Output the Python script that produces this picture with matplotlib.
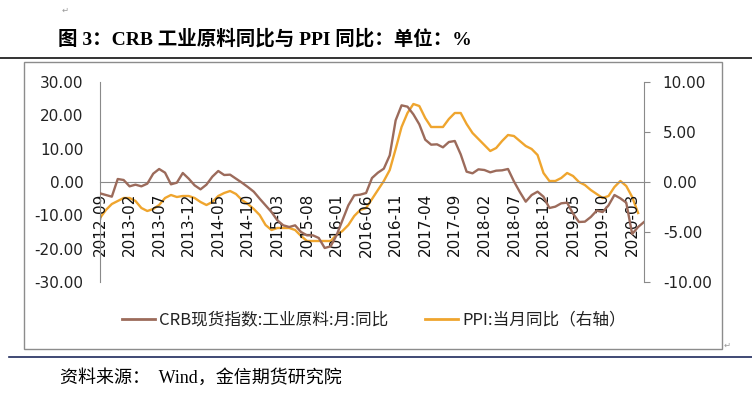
import matplotlib
matplotlib.use('Agg')
import matplotlib.pyplot as plt
from matplotlib.patches import Rectangle
from matplotlib.lines import Line2D
import pandas as pd

# fonts: CJK text needs Noto Sans CJK, Latin parts fall back in the list
CJK = 'Noto Sans CJK SC'
plt.rcParams['font.family'] = ['DejaVu Sans', CJK]

# ------------------------------------------------------------
# data (monthly, 2012-09 onward)
# ------------------------------------------------------------
months = [str(p) for p in pd.period_range('2012-09', periods=93, freq='M')]

# CRB spot index: industrial materials, YoY (%), left axis
crb_yoy = [
    -3.4, -3.9, -4.4, 0.9, 0.6, -1.3, -0.8, -1.3, -0.5, 2.5,
    3.9, 2.8, -0.7, -0.2, 2.7, 1.0, -1.0, -2.2, -0.8, 1.6,
    3.3, 2.1, 2.2, 1.0, -0.2, -1.5, -2.9, -5.0, -7.0, -9.0,
    -11.5, -13.0, -13.5, -13.0, -15.0, -16.0, -16.0, -16.8, -19.8, -19.3,
    -16.0, -11.5, -7.0, -4.0, -3.8, -3.3, 1.2, 2.8, 4.0, 8.0,
    18.5, 23.0, 22.6, 20.3, 17.3, 12.7, 11.2, 11.3, 10.4, 12.0,
    12.3, 8.3, 3.1, 2.6, 3.8, 3.6, 2.9, 3.4, 3.5, 3.9,
    0.2, -3.0, -5.9, -3.9, -2.9, -4.4, -7.8, -7.4, -6.4, -6.2,
    -9.5, -12.0, -11.9, -10.5, -8.6, -9.0, -7.0, -3.9, -4.9, -6.2,
    -15.6, -13.5, -12.0,
]

# PPI YoY (%), right axis (ends one month earlier)
ppi_yoy = [
    -3.6, -2.8, -2.2, -1.9, -1.6, -1.6, -1.9, -2.6, -2.9, -2.7,
    -2.3, -1.6, -1.3, -1.5, -1.4, -1.4, -1.6, -2.0, -2.3, -2.0,
    -1.4, -1.1, -0.9, -1.2, -1.8, -2.2, -2.7, -3.3, -4.3, -4.8,
    -4.6, -4.6, -4.6, -4.8, -5.4, -5.9, -5.9, -5.9, -5.9, -5.9,
    -5.3, -4.9, -4.3, -3.4, -2.8, -2.6, -1.7, -0.8, 0.1, 1.2,
    3.3, 5.5, 6.9, 7.8, 7.6, 6.4, 5.5, 5.5, 5.5, 6.3,
    6.9, 6.9, 5.8, 4.9, 4.3, 3.7, 3.1, 3.4, 4.1, 4.7,
    4.6, 4.1, 3.6, 3.3, 2.7, 0.9, 0.1, 0.1, 0.4, 0.9,
    0.6, 0.0, -0.3, -0.8, -1.2, -1.6, -1.4, -0.5, 0.1, -0.4,
    -1.5, -3.1,
]

left_ticks = [30, 20, 10, 0, -10, -20, -30]
right_ticks = [10, 5, 0, -5, -10]

crb_label = 'CRB现货指数:工业原料:月:同比'
ppi_label = 'PPI:当月同比（右轴）'

BROWN = '#9C6B5B'
ORANGE = '#EFA52E'
AXGRAY = '#8A8A8A'

W, H = 752, 395
fig = plt.figure(figsize=(W / 100, H / 100), dpi=100)


def fx(px):
    return px / W


def fy(py):
    return 1 - py / H


# ------------------------------------------------------------
# page decorations (title, rules, box, source)
# ------------------------------------------------------------
fig.text(fx(62), fy(10), '\u21b5', fontsize=6, color='#999999', va='center')
fig.text(fx(58), fy(39), '图 3：CRB 工业原料同比与 PPI 同比：单位：%',
         family=['Liberation Serif', CJK], fontweight='bold', fontsize=14,
         va='center', ha='left')
fig.add_artist(Line2D([0, 1], [fy(58), fy(58)], color='#111111', lw=1.2))

box = Rectangle((fx(24), fy(349)), fx(722) - fx(24), fy(62) - fy(349),
                transform=fig.transFigure, fill=False, edgecolor='#8C8C8C', lw=1)
fig.add_artist(box)
fig.text(fx(724), fy(345), '\u21b5', fontsize=6, color='#999999', va='center')

fig.add_artist(Line2D([fx(9), 1], [fy(357), fy(357)], color='#1F2A5C', lw=1.2))
fig.text(fx(60), fy(378), '资料来源：  Wind，金信期货研究院',
         family=['Liberation Serif', CJK], fontsize=13, va='center', ha='left')

# ------------------------------------------------------------
# chart
# ------------------------------------------------------------
ax = fig.add_axes([fx(100), fy(282), fx(644) - fx(100), fy(82) - fy(282)])
ax2 = ax.twinx()

x_crb = list(range(len(crb_yoy)))
x_ppi = list(range(len(ppi_yoy)))

ax.plot(x_crb, crb_yoy, color=BROWN, lw=1.7, zorder=3)
ax2.plot(x_ppi, ppi_yoy, color=ORANGE, lw=1.7, zorder=3)

ax.set_xlim(0, len(months) - 1)
ax.set_ylim(-30, 30)
ax2.set_ylim(-10, 10)

ax.set_yticks(left_ticks)
ax.set_yticklabels([f'{v:.2f}' for v in left_ticks])
ax2.set_yticks(right_ticks)
ax2.set_yticklabels([f'{v:.2f}' for v in right_ticks])

tick_idx = list(range(0, len(months), 5))
ax.set_xticks(tick_idx)
ax.set_xticklabels([months[i] for i in tick_idx])

for a in (ax, ax2):
    a.patch.set_visible(False)
    for s in a.spines.values():
        s.set_visible(False)

ax.spines['left'].set_visible(True)
ax.spines['left'].set_color(AXGRAY)
ax.spines['bottom'].set_visible(True)
ax.spines['bottom'].set_position(('data', 0))
ax.spines['bottom'].set_color(AXGRAY)
ax2.spines['right'].set_visible(True)
ax2.spines['right'].set_color(AXGRAY)

ax.tick_params(axis='y', length=0, pad=12, labelsize=11, labelcolor='#222222')
ax.tick_params(axis='x', length=0, pad=8, labelsize=11, labelcolor='#111111',
               labelrotation=90)
ax2.tick_params(axis='y', length=4.5, width=0.8, color=AXGRAY, pad=9,
                labelsize=11, labelcolor='#222222')
ax.set_zorder(ax2.get_zorder() + 1)

# legend
handles = [Line2D([], [], color=BROWN, lw=2), Line2D([], [], color=ORANGE, lw=2)]
fig.legend(handles, [crb_label, ppi_label], loc='center',
           bbox_to_anchor=(fx(374), fy(320)), ncol=2, frameon=False,
           prop={'family': [CJK], 'size': 12}, handlelength=2.0,
           handletextpad=0.25, columnspacing=2.2, labelcolor='#222222')

fig.savefig('out.png', dpi=100)
